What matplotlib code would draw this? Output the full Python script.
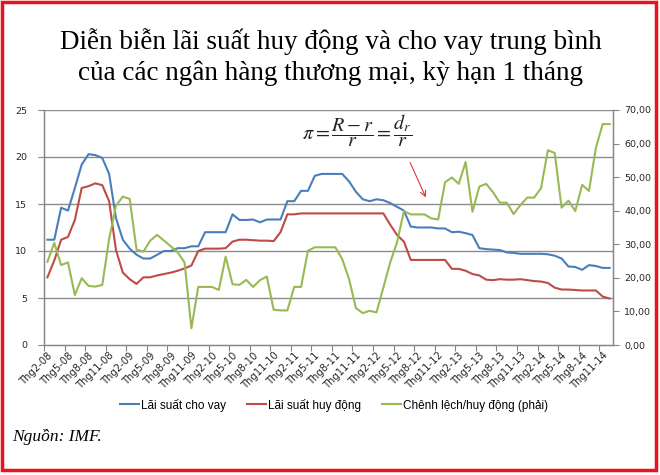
import matplotlib
matplotlib.use("Agg")
import matplotlib.pyplot as plt
from matplotlib.patches import Rectangle
from matplotlib.ticker import FuncFormatter, FixedLocator
import numpy as np

# ---------------- data ----------------
lending = [11.2, 11.2, 14.6, 14.3, 16.7, 19.2, 20.3, 20.2, 19.9, 18.2,
           13.5, 11.2, 10.25, 9.6, 9.2, 9.2, 9.6, 10.0, 10.0, 10.3,
           10.3, 10.5, 10.5, 12.0, 12.0, 12.0, 12.0, 13.9, 13.3, 13.3,
           13.35, 13.05, 13.35, 13.35, 13.35, 15.3, 15.3, 16.4, 16.4, 18.0,
           18.2, 18.2, 18.2, 18.2, 17.4, 16.3, 15.5, 15.3, 15.5, 15.4,
           15.1, 14.7, 14.3, 12.6, 12.5, 12.5, 12.5, 12.4, 12.4, 12.0,
           12.05, 11.9, 11.7, 10.3, 10.2, 10.15, 10.1, 9.85, 9.8, 9.7,
           9.7, 9.7, 9.7, 9.65, 9.5, 9.2, 8.35, 8.3, 8.0, 8.5,
           8.4, 8.2, 8.2]

deposit = [7.2, 9.0, 11.2, 11.5, 13.3, 16.7, 16.9, 17.2, 17.0, 15.3,
           10.1, 7.7, 7.0, 6.5, 7.2, 7.2, 7.4, 7.55, 7.7, 7.9,
           8.15, 8.45, 10.0, 10.25, 10.25, 10.25, 10.3, 11.0, 11.2, 11.2,
           11.15, 11.1, 11.1, 11.05, 12.0, 13.9, 13.9, 14.0, 14.0, 14.0,
           14.0, 14.0, 14.0, 14.0, 14.0, 14.0, 14.0, 14.0, 14.0, 14.0,
           12.8, 11.7, 11.0, 9.05, 9.05, 9.05, 9.05, 9.05, 9.05, 8.1,
           8.1, 7.9, 7.55, 7.4, 6.95, 6.9, 7.0, 6.95, 6.95, 7.0,
           6.9, 6.8, 6.75, 6.6, 6.1, 5.9, 5.9, 5.85, 5.8, 5.8,
           5.8, 5.15, 4.95]

spread_ratio = [24.8, 30.4, 23.8, 24.6, 14.9, 19.9, 17.6, 17.4, 17.9, 31.6,
                41.5, 44.2, 43.5, 28.4, 27.8, 31.1, 32.8, 31.1, 29.4, 27.6,
                24.6, 5.0, 17.3, 17.3, 17.3, 16.4, 26.3, 18.1, 17.9, 19.4,
                17.3, 19.3, 20.4, 10.5, 10.3, 10.3, 17.3, 17.3, 28.1, 29.1,
                29.1, 29.1, 29.1, 25.6, 19.6, 11.0, 9.5, 10.2, 9.7, 17.1,
                24.6, 30.6, 39.9, 38.9, 38.9, 38.9, 37.7, 37.4, 48.5, 49.9,
                48.0, 54.5, 39.7, 47.2, 48.0, 45.5, 42.4, 42.4, 39.0, 41.7,
                43.9, 43.9, 46.7, 58.0, 57.2, 40.9, 43.0, 39.9, 47.7, 45.9,
                58.7, 65.8, 65.8]

tick_labels = ["Thg2-08", "Thg5-08", "Thg8-08", "Thg11-08",
               "Thg2-09", "Thg5-09", "Thg8-09", "Thg11-09",
               "Thg2-10", "Thg5-10", "Thg8-10", "Thg11-10",
               "Thg2-11", "Thg5-11", "Thg8-11", "Thg11-11",
               "Thg2-12", "Thg5-12", "Thg8-12", "Thg11-12",
               "Thg2-13", "Thg5-13", "Thg8-13", "Thg11-13",
               "Thg2-14", "Thg5-14", "Thg8-14", "Thg11-14"]

series_names = ["Lãi suất cho vay", "Lãi suất huy động",
                "Chênh lệch/huy động (phải)"]

title_lines = ["Diễn biễn lãi suất huy động và cho vay trung bình",
               "của các ngân hàng thương mại, kỳ hạn 1 tháng"]
source_text = "Nguồn: IMF."

# ---------------- style ----------------
BLUE = "#4a7ebb"
RED = "#be4b48"
GREEN = "#98b954"
GRID = "#8c8c8c"
AX = "#868686"
TXT = "#262626"

W, H = 660, 475
fig = plt.figure(figsize=(W / 100, H / 100), dpi=100)
fig.patch.set_facecolor("white")

def fx(px):
    return px / W

def fy(py):
    return 1 - py / H

left, right, top, bottom = 44, 613, 110, 345
ax = fig.add_axes([fx(left), fy(bottom), fx(right - left), (bottom - top) / H])
ax2 = ax.twinx()

n = len(lending)
x = np.arange(n)

ax.plot(x, lending, color=BLUE, lw=1.5, solid_joinstyle="round", zorder=3)
ax.plot(x, deposit, color=RED, lw=1.5, solid_joinstyle="round", zorder=3)
ax2.plot(x, spread_ratio, color=GREEN, lw=1.5, solid_joinstyle="round", zorder=3)

ax.set_xlim(-0.5, n - 0.5)
ax.set_ylim(0, 25)
ax2.set_ylim(0, 70)

# grid from left axis
ax.set_yticks([0, 5, 10, 15, 20, 25])
for v in [5, 10, 15, 20, 25]:
    ax.axhline(v, color=GRID, lw=1.0, zorder=1)

ax2.set_yticks(np.arange(0, 71, 10))
ax2.yaxis.set_major_formatter(FuncFormatter(lambda v, p: f"{v:.2f}".replace(".", ",")))

# x ticks: labels at every 3rd category, tick marks at boundaries
label_pos = np.arange(0, n, 3)[:len(tick_labels)]
ax.set_xticks(label_pos)
ax.set_xticklabels(tick_labels, rotation=45, ha="right", rotation_mode="anchor",
                   fontsize=7.2, color=TXT)
ax.tick_params(axis="x", which="major", length=0, pad=4)
ax.xaxis.set_minor_locator(FixedLocator(np.arange(-0.5, n, 3)))
ax.tick_params(axis="x", which="minor", length=4, color=AX, width=0.8, direction="out")

ax.tick_params(axis="y", length=4, color=AX, width=0.8, labelsize=6.8,
               labelcolor=TXT, pad=8)
ax2.tick_params(axis="y", length=4, color=AX, width=0.8, labelsize=6.8,
                labelcolor=TXT, pad=4)

for a in (ax, ax2):
    a.spines["top"].set_visible(False)
    for s in ("left", "right", "bottom"):
        a.spines[s].set_color(AX)
        a.spines[s].set_linewidth(0.9)
ax.set_facecolor("none")

# title
fig.text(fx(331), fy(42), title_lines[0], ha="center", va="center",
         family="Liberation Serif", fontsize=19.5, color="black")
fig.text(fx(331), fy(73), title_lines[1], ha="center", va="center",
         family="Liberation Serif", fontsize=19.5, color="black")

# formula
plt.rcParams["mathtext.fontset"] = "stix"
fig.text(fx(357), fy(131), r"$\pi = \dfrac{R-r}{r} = \dfrac{d_r}{r}$",
         ha="center", va="center", fontsize=14.5, color="#222222")

# red arrow
fig.add_artist(matplotlib.patches.FancyArrowPatch(
    (fx(409), fy(160)), (fx(427), fy(200)), transform=fig.transFigure,
    arrowstyle="->,head_length=4,head_width=2", color="#e0343c", lw=0.8))

# legend
handles = [matplotlib.lines.Line2D([], [], color=c, lw=1.5) for c in (BLUE, RED, GREEN)]
fig.legend(handles, series_names, loc="center", bbox_to_anchor=(fx(334), fy(405)),
           ncol=3, frameon=False, handlelength=1.6, handletextpad=0.15,
           columnspacing=1.8, prop={"family": "Liberation Sans", "size": 8.5})

# source
fig.text(fx(12), fy(437), source_text, ha="left", va="center",
         family="Liberation Serif", style="italic", fontsize=12.5, color="black")

# red border
fig.add_artist(Rectangle((fx(1.5), fy(470)), fx(654), (468.5) / H,
                         transform=fig.transFigure, fill=False,
                         edgecolor="#e8141b", lw=2.5))

fig.savefig("out.png", dpi=100, facecolor="white")
